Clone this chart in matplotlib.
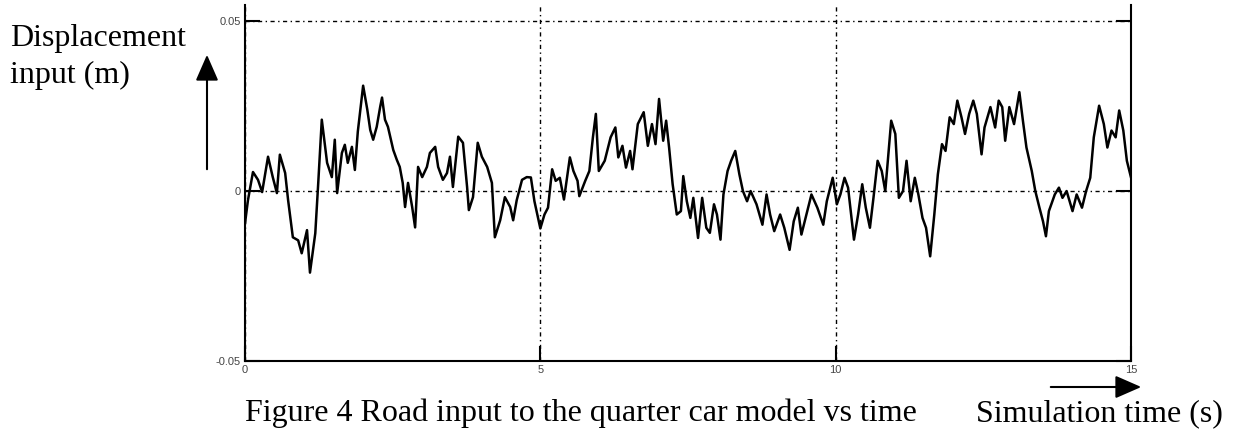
import numpy as np
import matplotlib.pyplot as plt

# Road input (displacement, m), 0 - 5 s
time_a = [0.00, 0.05, 0.135, 0.22, 0.29, 0.39, 0.47, 0.54, 0.59, 0.68, 0.73, 0.81,
          0.90, 0.96, 1.05, 1.10, 1.19, 1.24, 1.30, 1.39, 1.47, 1.52, 1.56, 1.64,
          1.69, 1.74, 1.81, 1.86, 1.91, 2.00, 2.07, 2.12, 2.17, 2.23, 2.29, 2.32,
          2.37, 2.42, 2.51, 2.57, 2.62, 2.67, 2.71, 2.76, 2.83, 2.88, 2.93, 3.00,
          3.08, 3.13, 3.22, 3.27, 3.35, 3.42, 3.47, 3.52, 3.61, 3.69, 3.76, 3.79,
          3.86, 3.94, 4.01, 4.10, 4.18, 4.23, 4.32, 4.40, 4.49, 4.54, 4.60, 4.69,
          4.77, 4.84, 4.90]
disp_a = [-0.0095, -0.0027, 0.0056, 0.0033, -0.0003, 0.0101, 0.0041, -0.0006,
          0.0107, 0.0053, -0.0027, -0.0136, -0.0145, -0.0183, -0.0115, -0.024,
          -0.0124, 0.0024, 0.021, 0.0083, 0.0041, 0.0151, -0.0006, 0.0112,
          0.0136, 0.0083, 0.013, 0.0062, 0.0175, 0.031, 0.024, 0.018, 0.0151,
          0.0189, 0.0249, 0.0275, 0.021, 0.0189, 0.0121, 0.0092, 0.0071, 0.0024,
          -0.0047, 0.0024, -0.0047, -0.0107, 0.0071, 0.0041, 0.0071, 0.0112,
          0.013, 0.0071, 0.0033, 0.0053, 0.0101, 0.0012, 0.016, 0.0142, 0.0012,
          -0.0056, -0.0018, 0.0142, 0.0101, 0.0071, 0.0024, -0.0136, -0.0086,
          -0.0018, -0.0047, -0.0086, -0.0027, 0.0033, 0.0041, 0.0040, -0.0030]

# 5 - 15 s
time_b = [5.00, 5.07, 5.13, 5.20, 5.26, 5.33, 5.40, 5.50, 5.56, 5.63, 5.66, 5.76,
          5.83, 5.89, 5.94, 5.99, 6.09, 6.19, 6.27, 6.32, 6.39, 6.45, 6.52, 6.56,
          6.65, 6.75, 6.82, 6.89, 6.95, 7.01, 7.08, 7.13, 7.18, 7.24, 7.31, 7.38,
          7.42, 7.48, 7.54, 7.59, 7.67, 7.74, 7.81, 7.87, 7.94, 7.99, 8.05, 8.10,
          8.17, 8.23, 8.30, 8.37, 8.43, 8.50, 8.56, 8.66, 8.76, 8.83, 8.89, 8.96,
          9.06, 9.13, 9.22, 9.29, 9.36, 9.42, 9.49, 9.59, 9.69, 9.79, 9.85, 9.95,
          10.02, 10.08, 10.15, 10.21, 10.31, 10.38, 10.45, 10.51, 10.58, 10.64,
          10.71, 10.78, 10.84, 10.94, 11.01, 11.07, 11.14, 11.20, 11.27, 11.34,
          11.40, 11.47, 11.53, 11.60, 11.67, 11.73, 11.80, 11.86, 11.93, 12.00,
          12.06, 12.13, 12.19, 12.26, 12.33, 12.39, 12.47, 12.52, 12.62, 12.70,
          12.76, 12.82, 12.87, 12.94, 13.02, 13.11, 13.17, 13.23, 13.32, 13.38,
          13.45, 13.51, 13.56, 13.61, 13.71, 13.78, 13.84, 13.91, 14.01, 14.08,
          14.17, 14.24, 14.31, 14.37, 14.46, 14.54, 14.60, 14.67, 14.74, 14.80,
          14.87, 14.93, 15.00]
disp_b = [-0.0110, -0.0069, -0.0049, 0.0064, 0.0030, 0.0039, -0.0025, 0.0099,
          0.0059, 0.0030, -0.0015, 0.0030, 0.0059, 0.0158, 0.0227, 0.0059, 0.0089,
          0.0158, 0.0187, 0.0099, 0.0133, 0.0069, 0.0118, 0.0064, 0.0197, 0.0232,
          0.0133, 0.0197, 0.0138, 0.0271, 0.0148, 0.0207, 0.0128, 0.0020, -0.0069,
          -0.0059, 0.0044, -0.0030, -0.0079, -0.0020, -0.0138, -0.0020, -0.0108,
          -0.0123, -0.0039, -0.0069, -0.0143, -0.0010, 0.0059, 0.0089, 0.0118,
          0.0049, 0.0000, -0.0030, 0.0000, -0.0039, -0.0099, -0.0010, -0.0069,
          -0.0118, -0.0069, -0.0108, -0.0173, -0.0089, -0.0049, -0.0128, -0.0079,
          -0.0010, -0.0049, -0.0099, -0.0030, 0.0039, -0.0039, -0.0010, 0.0039,
          0.0010, -0.0143, -0.0069, 0.0020, -0.0049, -0.0108, -0.0020, 0.0089,
          0.0059, 0.0000, 0.0207, 0.0168, -0.0020, 0.0000, 0.0089, -0.0030, 0.0039,
          -0.0010, -0.0079, -0.0108, -0.0192, -0.0069, 0.0049, 0.0138, 0.0118,
          0.0217, 0.0197, 0.0266, 0.0217, 0.0168, 0.0227, 0.0266, 0.0227, 0.0108,
          0.0187, 0.0247, 0.0187, 0.0266, 0.0247, 0.0148, 0.0247, 0.0197, 0.0291,
          0.0207, 0.0128, 0.0059, 0.0000, -0.0049, -0.0089, -0.0133, -0.0059,
          -0.0010, 0.0010, -0.0020, 0.0000, -0.0059, -0.0010, -0.0049, 0.0000,
          0.0039, 0.0158, 0.0251, 0.0197, 0.0128, 0.0178, 0.0158, 0.0237, 0.0178,
          0.0089, 0.0040]

x_ticks = [0, 5, 10, 15]
y_ticks = [-0.05, 0, 0.05]
y_tick_labels = ["-0.05", "0", "0.05"]

W, H = 1254, 434
fig = plt.figure(figsize=(W / 100, H / 100), dpi=100)
ax = fig.add_axes([245 / W, 1 - 361 / H, (1131 - 245) / W, (361 - 5) / H])

ax.plot(time_a + time_b, disp_a + disp_b, color="black", lw=1.8)

ax.set_xlim(0, 15)
ax.set_ylim(-0.05, 0.05 + 0.05 * 16 / 169)
ax.set_xticks(x_ticks)
ax.set_xticklabels([str(t) for t in x_ticks])
ax.set_yticks(y_ticks)
ax.set_yticklabels(y_tick_labels)
ax.spines["top"].set_visible(False)
for s in ["left", "right", "bottom"]:
    ax.spines[s].set_linewidth(1.5)
ax.tick_params(direction="in", length=11, width=1.5, right=True,
               labelsize=8, labelcolor="#444444", pad=3)
# matlab style dash-dot grid
ax.grid(True, color="black", lw=1.0, dashes=(3, 2.5, 1, 2.5))
for lab in ax.get_xticklabels() + ax.get_yticklabels():
    lab.set_family("Liberation Sans")

serif = "Liberation Serif"
fs = 23
fig.text(10 / W, 1 - 46 / H, "Displacement", family=serif, fontsize=fs, va="baseline")
fig.text(10 / W, 1 - 83 / H, "input (m)", family=serif, fontsize=fs, va="baseline")
fig.text(245 / W, 1 - 421 / H, "Figure 4 Road input to the quarter car model vs time",
         family=serif, fontsize=fs, va="baseline")
fig.text(976 / W, 1 - 421 / H, "Simulation time (s)", family=serif, fontsize=fs,
         va="baseline")

arrow = dict(arrowstyle="-|>,head_length=0.8,head_width=0.35", color="black", lw=1.5)
fig.add_artist(plt.matplotlib.patches.FancyArrowPatch(
    (207 / W, 1 - 172 / H), (207 / W, 1 - 52 / H), transform=fig.transFigure,
    mutation_scale=20, **arrow))
fig.add_artist(plt.matplotlib.patches.FancyArrowPatch(
    (1048 / W, 1 - 387 / H), (1144 / W, 1 - 387 / H), transform=fig.transFigure,
    mutation_scale=20, **arrow))

fig.savefig("out.png", dpi=100)
